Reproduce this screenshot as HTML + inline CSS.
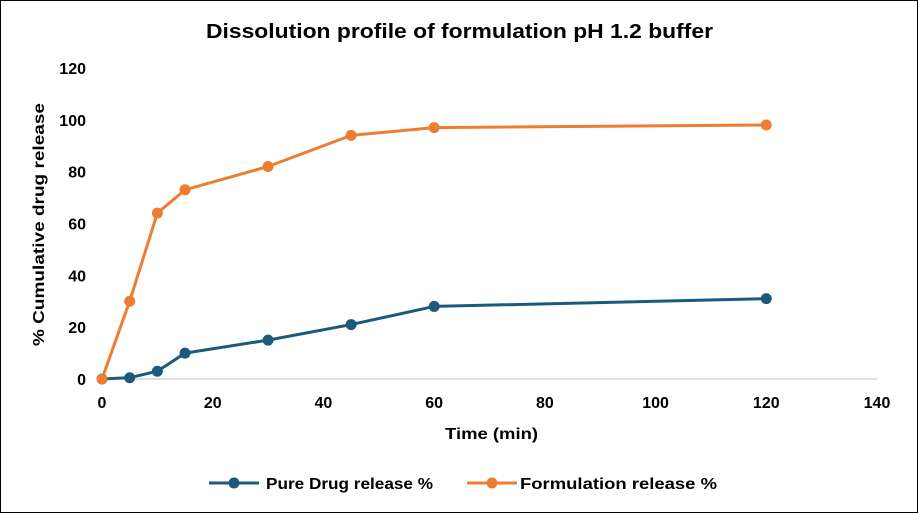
<!DOCTYPE html>
<html><head><meta charset="utf-8"><style>
html,body{margin:0;padding:0;background:#fff}
svg{display:block;font-family:"Liberation Sans",Arial,sans-serif}
</style></head><body>
<svg id="chart" width="918" height="513">
<rect x="0.5" y="0.5" width="917" height="512" fill="#fff" stroke="#000" stroke-width="1"/>
<text x="206" y="38" font-size="20" font-weight="bold" fill="#000" textLength="507" lengthAdjust="spacingAndGlyphs">Dissolution profile of formulation pH  1.2 buffer</text>
<text transform="translate(44,346) rotate(-90)" font-size="16" font-weight="bold" textLength="243" lengthAdjust="spacingAndGlyphs">% Cumulative drug release</text>
<text x="445" y="439" font-size="16" font-weight="bold" textLength="93" lengthAdjust="spacingAndGlyphs">Time (min)</text>
<g id="axes"></g>
<g id="series"></g>
<g>
<g>
<line x1="209" y1="483" x2="259" y2="483" stroke="#1c5a7c" stroke-width="3"/>
<circle cx="234" cy="483" r="5.5" fill="#1c5a7c"/>
<text x="266" y="489" font-size="16" font-weight="bold" textLength="167" lengthAdjust="spacingAndGlyphs">Pure Drug release %</text>
</g>
<g>
<line x1="467" y1="483" x2="517" y2="483" stroke="#ed7d31" stroke-width="3"/>
<circle cx="492" cy="483" r="5.5" fill="#ed7d31"/>
<text x="520" y="489" font-size="16" font-weight="bold" textLength="197" lengthAdjust="spacingAndGlyphs">Formulation release %</text>
</g>
</g>
</svg>
<script>
const times = [0, 5, 10, 15, 30, 45, 60, 120];
const pureDrug = [0, 0.5, 3, 10, 15, 21, 28, 31];
const formulation = [0, 30, 64, 73, 82, 94, 97, 98];
const xTicks = [0, 20, 40, 60, 80, 100, 120, 140];
const yTicks = [0, 20, 40, 60, 80, 100, 120];
const NS = "http://www.w3.org/2000/svg";
const x = v => 102 + v * (775 / 140);
const y = v => 379 - v * (311 / 120);
const axes = document.getElementById('axes');
const series = document.getElementById('series');
function mk(tag, attrs, parent) {
  const e = document.createElementNS(NS, tag);
  for (const k in attrs) e.setAttribute(k, attrs[k]);
  parent.appendChild(e);
  return e;
}
const xl = mk('line', {x1: x(0), y1: y(0), x2: x(140), y2: y(0), stroke: '#bfbfbf', 'stroke-width': 1}, axes);


xTicks.forEach(t => {
  const tx = mk('text', {x: x(t), y: 408, 'text-anchor': 'middle', 'font-size': 16, 'font-weight': 'bold'}, axes);
  tx.textContent = t;
  
  
});
yTicks.forEach(t => {
  const tx = mk('text', {x: 86, y: y(t) + 6, 'text-anchor': 'end', 'font-size': 16, 'font-weight': 'bold'}, axes);
  tx.textContent = t;
  
  
});
function draw(vals, color, name) {
  const pts = times.map((t, i) => x(t) + ',' + y(vals[i])).join(' ');
  const pl = mk('polyline', {points: pts, fill: 'none', stroke: color, 'stroke-width': 3, 'stroke-linejoin': 'round'}, series);
  
  
  times.forEach((t, i) => {
    const c = mk('circle', {cx: x(t), cy: y(vals[i]), r: 5.5, fill: color}, series);
    
    
  });
}
draw(pureDrug, '#1c5a7c', 'pure-drug');
draw(formulation, '#ed7d31', 'formulation');
</script>
</body></html>
